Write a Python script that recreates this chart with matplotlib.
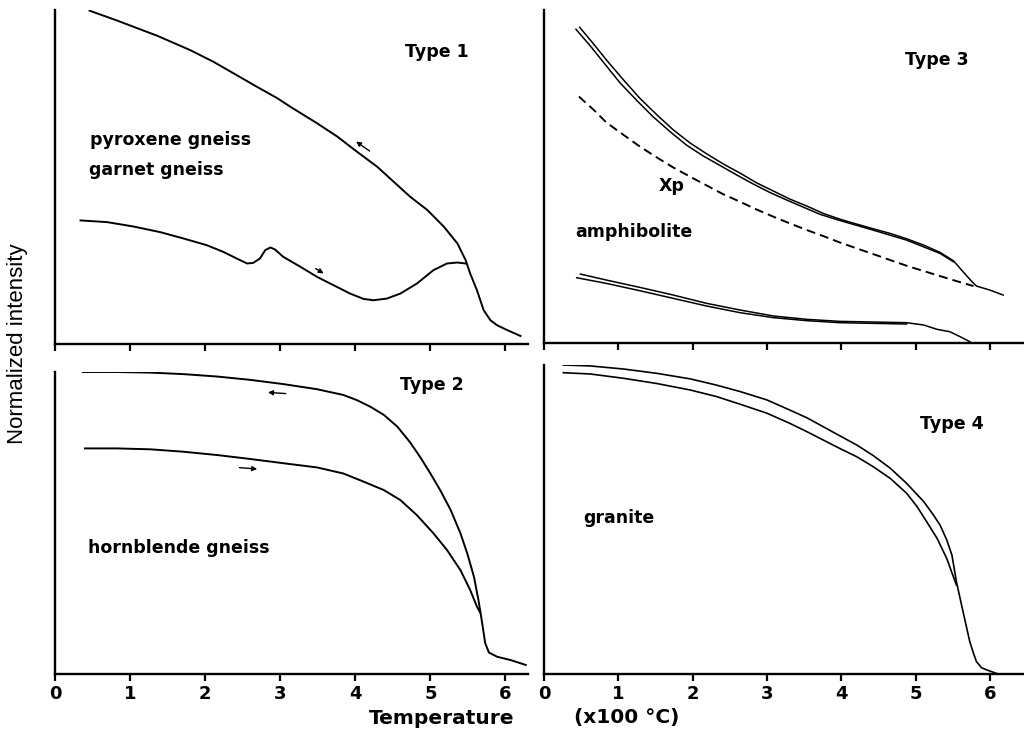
import matplotlib
matplotlib.use("Agg")
import matplotlib.pyplot as plt

# ---------------- data ----------------
# Type 1 (pyroxene / garnet gneiss)
t1_cool_x = [0.46, 0.82, 1.36, 1.80, 2.11, 2.42, 2.69, 2.96, 3.13, 3.49, 3.76, 4.02, 4.29,
             4.51, 4.73, 4.96, 5.18, 5.36, 5.47, 5.53, 5.62, 5.71, 5.80, 5.89, 6.02, 6.20]
t1_cool_y = [99.8, 96.9, 92.3, 88.0, 84.5, 80.5, 77.0, 73.6, 71.1, 66.1, 62.1, 57.6, 53.1,
             48.6, 44.1, 40.1, 35.1, 30.1, 25.1, 21.1, 16.1, 10.1, 7.1, 5.6, 4.2, 2.4]
t1_heat_x = [0.34, 0.69, 1.04, 1.40, 1.71, 2.02, 2.24, 2.42, 2.56, 2.64, 2.73, 2.80, 2.87, 2.93,
             3.04, 3.27, 3.49, 3.71, 3.93, 4.11, 4.24, 4.42, 4.60, 4.82, 5.04, 5.22, 5.36, 5.47]
t1_heat_y = [37.0, 36.5, 35.2, 33.5, 31.6, 29.6, 27.6, 25.6, 24.1, 24.3, 25.6, 28.1, 28.9, 28.3,
             26.1, 23.1, 20.1, 17.6, 15.1, 13.5, 13.1, 13.6, 15.1, 18.1, 22.1, 24.1, 24.4, 24.1]

# Type 2 (hornblende gneiss)
t2_cool_x = [0.37, 0.82, 1.27, 1.71, 2.16, 2.60, 3.04, 3.49, 3.84, 4.02, 4.20, 4.38, 4.56, 4.73,
             4.87, 5.00, 5.13, 5.27, 5.40, 5.49, 5.58, 5.64, 5.69, 5.73, 5.78, 5.89, 6.07, 6.27]
t2_cool_y = [100.0, 100.0, 99.8, 99.3, 98.5, 97.4, 96.0, 94.3, 92.4, 90.7, 88.5, 85.8, 81.9, 76.7,
             71.6, 66.4, 60.9, 54.3, 46.6, 40.0, 32.2, 24.5, 16.8, 10.2, 7.1, 5.7, 4.6, 3.0]
t2_heat_x = [0.40, 0.82, 1.27, 1.71, 2.16, 2.60, 3.04, 3.49, 3.84, 4.11, 4.38, 4.60, 4.82,
             5.04, 5.22, 5.40, 5.53, 5.62, 5.66]
t2_heat_y = [74.7, 74.7, 74.4, 73.6, 72.5, 71.2, 69.8, 68.4, 66.4, 63.7, 60.9, 57.6, 52.6,
             46.6, 41.1, 34.4, 27.8, 22.3, 20.5]

# Type 3 (amphibolite) - upper double trace
t3_a1_x = [0.48, 0.66, 0.84, 1.07, 1.29, 1.52, 1.74, 1.97, 2.19, 2.41, 2.64, 2.86, 3.09, 3.31,
           3.54, 3.76, 3.98, 4.21, 4.43, 4.66, 4.88, 5.11, 5.33, 5.51, 5.64, 5.76, 5.82, 6.00, 6.18]
t3_a1_y = [94.8, 90.0, 85.0, 79.0, 73.5, 68.5, 64.0, 60.0, 56.8, 53.8, 51.0, 48.1, 45.6, 43.2,
           41.1, 38.9, 37.2, 35.7, 34.3, 32.9, 31.3, 29.4, 27.2, 24.7, 21.4, 18.4, 17.1, 15.9, 14.4]
t3_a2_x = [0.43, 0.62, 0.80, 1.02, 1.25, 1.47, 1.70, 1.92, 2.14, 2.37, 2.59, 2.82, 3.04, 3.27,
           3.49, 3.72, 3.98, 4.43, 4.88, 5.33, 5.51]
t3_a2_y = [94.2, 89.3, 84.3, 78.2, 72.8, 67.9, 63.4, 59.4, 56.2, 53.3, 50.5, 47.7, 45.2, 42.9,
           40.8, 38.6, 36.8, 33.9, 30.9, 26.9, 24.4]
# lower double trace
t3_b1_x = [0.49, 0.84, 1.29, 1.74, 2.19, 2.64, 3.09, 3.54, 3.98, 4.43, 4.88, 5.11, 5.29, 5.46,
           5.60, 5.73, 5.82]
t3_b1_y = [20.7, 18.9, 16.7, 14.4, 11.9, 9.9, 8.1, 7.1, 6.5, 6.3, 6.1, 5.4, 4.1, 3.4, 1.9, 0.4, -0.9]
t3_b2_x = [0.44, 0.84, 1.29, 1.74, 2.19, 2.64, 3.09, 3.54, 3.98, 4.43, 4.88]
t3_b2_y = [19.6, 17.9, 15.7, 13.4, 11.1, 9.1, 7.6, 6.7, 6.1, 5.9, 5.7]
# Xp (dashed)
t3_xp_x = [0.47, 0.67, 0.84, 1.07, 1.29, 1.52, 1.74, 1.97, 2.19, 2.41, 2.64, 2.86, 3.09, 3.31,
           3.54, 3.76, 3.98, 4.21, 4.43, 4.66, 4.88, 5.11, 5.33, 5.55, 5.78]
t3_xp_y = [74.0, 70.0, 66.2, 62.5, 59.0, 55.7, 52.7, 49.9, 47.3, 44.7, 42.4, 40.1, 37.9, 35.9,
           33.9, 32.1, 30.2, 28.4, 26.7, 24.9, 23.2, 21.6, 20.1, 18.6, 17.1]

# Type 4 (granite)
t4_a_x = [0.26, 0.62, 1.07, 1.52, 1.97, 2.32, 2.64, 3.00, 3.31, 3.54, 3.76, 3.98, 4.21, 4.43,
          4.66, 4.88, 5.11, 5.24, 5.33, 5.42, 5.49, 5.55, 5.62, 5.67, 5.73, 5.78, 5.82, 5.89,
          5.96, 6.09]
t4_a_y = [100.0, 99.7, 98.7, 97.3, 95.5, 93.5, 91.4, 88.7, 85.4, 82.9, 80.0, 77.1, 74.1, 70.7,
          66.6, 61.7, 55.8, 51.5, 48.2, 43.4, 38.5, 29.9, 22.3, 16.9, 10.5, 6.7, 4.0, 2.0,
          1.3, 0.2]
t4_b_x = [0.26, 0.62, 1.07, 1.52, 1.97, 2.32, 2.64, 3.00, 3.31, 3.54, 3.76, 3.98, 4.21, 4.43,
          4.66, 4.88, 5.02, 5.15, 5.29, 5.42, 5.55]
t4_b_y = [97.5, 97.1, 95.7, 94.0, 91.9, 89.8, 87.3, 84.4, 81.1, 78.4, 75.7, 73.0, 70.3, 67.1,
          63.3, 58.5, 54.2, 49.3, 43.9, 37.4, 28.8]

tick_vals = [0, 1, 2, 3, 4, 5, 6]
tick_labels = ["0", "1", "2", "3", "4", "5", "6"]

# ---------------- figure ----------------
W, H = 1024, 729
fig = plt.figure(figsize=(W / 100, H / 100), dpi=100)
fig.patch.set_facecolor("white")

def px_axes(x0, x1, ytop, ybot):
    return fig.add_axes([x0 / W, (H - ybot) / H, (x1 - x0) / W, (ybot - ytop) / H])

ax1 = px_axes(55, 528, 10, 344)
ax3 = px_axes(544, 1024, 10, 343)
ax2 = px_axes(55, 528, 372, 674)
ax4 = px_axes(544, 1024, 365, 674)

LW = 1.4
LBL = dict(fontsize=12.5, fontweight="bold", family="DejaVu Sans", color="black")
TYP = dict(fontsize=12.5, fontweight="bold", family="DejaVu Sans", color="black")

for ax, xmax, labeled in [(ax1, 6.3, False), (ax3, 6.46, False), (ax2, 6.3, True), (ax4, 6.46, True)]:
    ax.set_xlim(0, xmax)
    ax.set_ylim(0, 100)
    ax.spines["top"].set_visible(False)
    ax.spines["right"].set_visible(False)
    ax.spines["left"].set_linewidth(1.7)
    ax.spines["bottom"].set_linewidth(1.7)
    ax.set_yticks([])
    ax.set_xticks(tick_vals)
    ax.tick_params(axis="x", direction="out", length=5, width=1.6, pad=3)
    if labeled:
        ax.set_xticklabels(tick_labels, fontsize=13, fontweight="bold")
    else:
        ax.set_xticklabels([])
    ax.set_facecolor("none")

# Type 1
ax1.plot(t1_cool_x, t1_cool_y, color="black", lw=LW)
ax1.plot(t1_heat_x, t1_heat_y, color="black", lw=LW)
ax1.annotate("", xy=(3.98, 61.1), xytext=(4.22, 57.3),
             arrowprops=dict(arrowstyle="-|>", color="black", lw=1.0, mutation_scale=7))
ax1.annotate("", xy=(3.61, 20.7), xytext=(3.44, 23.0),
             arrowprops=dict(arrowstyle="-|>", color="black", lw=1.0, mutation_scale=7))
ax1.text(5.09, 87.5, "Type 1", ha="center", va="center", **TYP)
ax1.text(0.47, 61.0, "pyroxene gneiss", ha="left", va="center", **LBL)
ax1.text(0.45, 52.0, "garnet gneiss", ha="left", va="center", **LBL)

# Type 2
ax2.plot(t2_cool_x, t2_cool_y, color="black", lw=LW)
ax2.plot(t2_heat_x, t2_heat_y, color="black", lw=LW)
ax2.annotate("", xy=(2.80, 93.3), xytext=(3.11, 92.8),
             arrowprops=dict(arrowstyle="-|>", color="black", lw=1.0, mutation_scale=7))
ax2.annotate("", xy=(2.73, 67.8), xytext=(2.42, 68.4),
             arrowprops=dict(arrowstyle="-|>", color="black", lw=1.0, mutation_scale=7))
ax2.text(5.02, 95.7, "Type 2", ha="center", va="center", **TYP)
ax2.text(0.44, 41.6, "hornblende gneiss", ha="left", va="center", **LBL)

# Type 3
ax3.plot(t3_a1_x, t3_a1_y, color="black", lw=1.1)
ax3.plot(t3_a2_x, t3_a2_y, color="black", lw=1.1)
ax3.plot(t3_b1_x, t3_b1_y, color="black", lw=1.1)
ax3.plot(t3_b2_x, t3_b2_y, color="black", lw=1.1)
ax3.plot(t3_xp_x, t3_xp_y, color="black", lw=1.4, dashes=(4.6, 2.6))
ax3.text(5.28, 85.0, "Type 3", ha="center", va="center", **TYP)
ax3.text(1.72, 47.0, "Xp", ha="center", va="center", **TYP)
ax3.text(0.42, 33.4, "amphibolite", ha="left", va="center", **LBL)

# Type 4
ax4.plot(t4_a_x, t4_a_y, color="black", lw=1.2)
ax4.plot(t4_b_x, t4_b_y, color="black", lw=1.2)
ax4.text(5.49, 80.8, "Type 4", ha="center", va="center", **TYP)
ax4.text(0.53, 50.4, "granite", ha="left", va="center", **LBL)

# Axis titles
fig.text(18 / W, 1 - 344 / H, "Normalized intensity", rotation=90, ha="center", va="center",
         fontsize=16, family="Liberation Sans")
fig.text(442 / W, 1 - 718 / H, "Temperature", ha="center", va="center",
         fontsize=14.5, fontweight="bold", family="DejaVu Sans")
fig.text(627 / W, 1 - 717 / H, "(x100 \u00b0C)", ha="center", va="center",
         fontsize=14.5, fontweight="bold", family="DejaVu Sans")

fig.savefig("out.png", dpi=100, facecolor="white")
